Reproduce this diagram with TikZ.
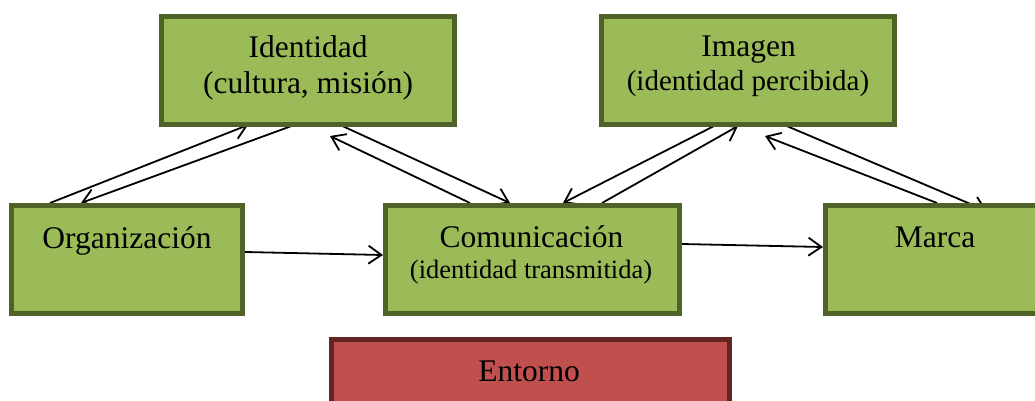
\documentclass[tikz,border=0pt]{standalone}
\usepackage{fontspec}
\setmainfont{Liberation Serif}
\usetikzlibrary{arrows.meta}
\pgfdeclarelayer{bg}
\pgfsetlayers{bg,main}
\definecolor{gfill}{HTML}{9BBB59}
\definecolor{gline}{HTML}{4F6228}
\definecolor{rfill}{HTML}{C0504D}
\definecolor{rline}{HTML}{632523}
\tikzset{
  gbox/.style={draw=gline, fill=gfill, line width=5pt, minimum height=108pt, inner sep=0pt},
  rbox/.style={draw=rline, fill=rfill, line width=5pt, minimum height=108pt, inner sep=0pt},
  big/.style={anchor=base, inner sep=0pt, font=\fontsize{31.5}{36}\selectfont},
  sub/.style={anchor=base, inner sep=0pt},
  conn/.style={line width=1.8pt, -{Straight Barb[length=13pt,width=18pt,line width=1.8pt]}}
}
\begin{document}
\begin{tikzpicture}[x=1pt,y=-1pt]
\useasboundingbox (0,0) rectangle (1035,401);
\clip (0,0) rectangle (1035,401);
% boxes
\node[gbox, minimum width=293pt] (iden) at (308,70.5) {};
\node[gbox, minimum width=293pt] (imag) at (748,70.5) {};
\node[gbox, minimum width=231pt] (org) at (127,259.5) {};
\node[gbox, minimum width=294pt] (com) at (532.5,259.5) {};
\node[gbox, minimum width=219pt] (marca) at (935,259.5) {};
\node[rbox, minimum width=398pt] (ent) at (530.5,393.5) {};
% texts
\node[big] (idenA) at (308,58) {Identidad};
\node[big] (idenB) at (308,94) {(cultura, misión)};
\node[big] (imagA) at (748.5,57) {Imagen};
\node[sub, font=\fontsize{29}{34}\selectfont] (imagB) at (748,91) {(identidad percibida)};
\node[big] (orgA) at (127,248) {Organización};
\node[big] (comA) at (531.5,247) {Comunicación};
\node[sub, font=\fontsize{26.5}{31}\selectfont] (comB) at (531,278) {(identidad transmitida)};
\node[big] (marcaA) at (935,247) {Marca};
\node[big] (entA) at (529,381) {Entorno};
% connectors
\begin{pgfonlayer}{bg}
\draw[conn] ([xshift=41pt]org.north west) -- ([xshift=89pt,yshift=2pt]iden.south west);
\draw[conn] ([xshift=138pt,yshift=3pt]iden.south west) -- ([xshift=72pt]org.north west);
\draw[conn] ([xshift=179pt,yshift=3pt]iden.south west) -- ([xshift=127pt]com.north west);
\draw[conn] ([xshift=87pt]com.north west) -- ([xshift=171pt,yshift=-9pt]iden.south west);
\draw[conn] ([xshift=219pt]com.north west) -- ([xshift=139pt,yshift=1pt]imag.south west);
\draw[conn] ([xshift=119pt,yshift=3pt]imag.south west) -- ([xshift=180pt]com.north west);
\draw[conn] ([xshift=183pt,yshift=3pt]imag.south west) -- ([xshift=164pt,yshift=-8pt]marca.north west);
\draw[conn] ([xshift=114pt]marca.north west) -- ([xshift=166pt,yshift=-9pt]imag.south west);
\draw[conn] ([yshift=7.5pt]org.east) -- ([yshift=4.5pt]com.west);
\draw[conn] ([yshift=15.5pt]com.east) -- ([yshift=12.5pt]marca.west);
\end{pgfonlayer}
\end{tikzpicture}
\end{document}
